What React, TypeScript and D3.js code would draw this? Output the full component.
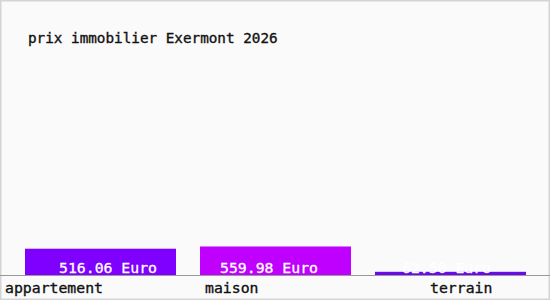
import React from "react";
import * as d3 from "d3";

const categories = ["appartement", "maison", "terrain"];
const values = [516.06, 559.98, 62.5];
const valueLabels = ["516.06 Euro", "559.98 Euro", "62.50 Euro"];
const colors = ["#7f00ff", "#c000ff", "#6a0ae8"];
const title = "prix immobilier Exermont 2026";

// layout constants
const W = 550;
const H = 300;
const baseY = 275;
const catLabelX = [5, 205, 430];
const valLabelDx = [34, 20, 27];
const font = "'DejaVu Sans Mono', 'Liberation Mono', monospace";

export default function App() {
  const x = d3
    .scaleBand<string>()
    .domain(categories)
    .range([25, 526])
    .paddingInner(24 / 175)
    .paddingOuter(0);
  const y = d3.scaleLinear().domain([0, 5400]).range([baseY, 0]);

  return (
    <svg
      width={W}
      height={H}
      style={{ position: "absolute", left: 0, top: 0 }}
      fontFamily={font}
    >
      <rect x={0} y={0} width={W} height={H} fill="#fafafa" />
      <rect
        x={0.75}
        y={0.75}
        width={W - 1.5}
        height={H - 1.5}
        fill="none"
        stroke="#d4d4d4"
        strokeWidth={1.5}
      />
      <text x={28} y={43} fontSize={14.3} fill="#111" stroke="#111" strokeWidth={0.35}>
        {title}
      </text>
      {categories.map((c, i) => (
        <g key={c}>
          <rect
            x={x(c)}
            y={y(values[i])}
            width={x.bandwidth()}
            height={baseY - y(values[i])}
            fill={colors[i]}
          />
          <text
            x={(x(c) as number) + valLabelDx[i]}
            y={273}
            fontSize={14.8}
            fill="#ffffff"
            stroke="#ffffff"
            strokeWidth={0.3}
          >
            {valueLabels[i]}
          </text>
          <text
            x={catLabelX[i]}
            y={293}
            fontSize={14.8}
            fill="#111"
            stroke="#111"
            strokeWidth={0.35}
          >
            {c}
          </text>
        </g>
      ))}
      <line x1={0} x2={W} y1={baseY + 0.5} y2={baseY + 0.5} stroke="#999" strokeWidth={1} />
    </svg>
  );
}
